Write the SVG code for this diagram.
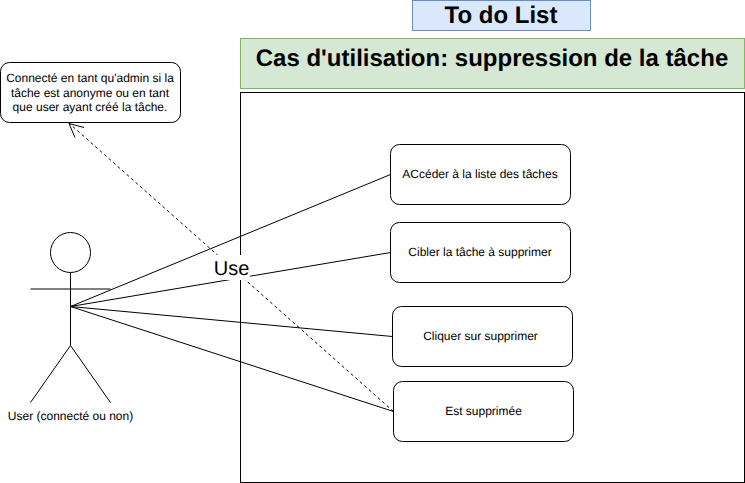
<svg xmlns="http://www.w3.org/2000/svg" width="745" height="483" viewBox="0 0 745 483">
<style>
text{font-family:"Liberation Sans",Arial,sans-serif;fill:#000;text-anchor:middle;text-rendering:geometricPrecision}
.b{fill:#fff;stroke:#000;stroke-width:1}
.s{font-size:12px}
.l{fill:none;stroke:#000;stroke-width:1}
.h{font-weight:bold}
</style>
<rect width="745" height="483" fill="#fff"/>
<g id="title"><rect x="412.500" y="0.500" width="178" height="30" fill="#dae8fc" stroke="#6c8ebf"/><text class="h" x="501" y="23" font-size="24">To do List</text></g>
<g id="usecase-title"><rect x="240.500" y="38.500" width="504" height="50" fill="#d5e8d4" stroke="#82b366"/><text class="h" x="492" y="66" font-size="24">Cas d'utilisation: suppression de la tâche</text></g>
<g id="boundary"><rect x="240.500" y="92.500" width="504" height="390" fill="#fff" stroke="#000"/></g>
<g id="note"><rect class="b" x="0.500" y="62.500" width="180" height="60" rx="9" ry="9"/>
<text class="s" x="90" y="82">Connecté en tant qu'admin si la</text><text class="s" x="90" y="96.500">tâche est anonyme ou en tant</text><text class="s" x="90" y="111">que user ayant créé la tâche.</text></g>
<g id="connectors">
<path class="l" d="M70.500 306.500L390.500 174.500M70.500 306.500L390.500 252.500M70.500 306.500L392.500 336.500M70.500 306.500L393.500 411.500"/>
<path class="l" stroke-dasharray="3 3" d="M393.500 411.500L70 124"/>
<path class="l" d="M84 127.500L69 123.500L75 137.500"/>
<rect x="212" y="255" width="38" height="25" fill="#fff"/>
<text x="231.500" y="275" font-size="20">Use</text>
</g>
<g id="actor"><circle class="b" cx="70.500" cy="252.500" r="20"/><path class="l" d="M70.500 272.500V345.500M30.500 289H110.500M30.500 402.500L70.500 345.500L110.500 402.500"/>
<text class="s" x="70.500" y="420">User (connecté ou non)</text></g>
<g id="uc1"><rect class="b" x="390.500" y="144.500" width="180" height="60" rx="9" ry="9"/><text class="s" x="480" y="178">ACcéder à la liste des tâches</text></g>
<g id="uc2"><rect class="b" x="390.500" y="222.500" width="180" height="60" rx="9" ry="9"/><text class="s" x="480" y="256">Cibler la tâche à supprimer</text></g>
<g id="uc3"><rect class="b" x="392.500" y="306.500" width="180" height="60" rx="9" ry="9"/><text class="s" x="480.500" y="340">Cliquer sur supprimer</text></g>
<g id="uc4"><rect class="b" x="393.500" y="381.500" width="180" height="60" rx="9" ry="9"/><text class="s" x="483.500" y="415">Est supprimée</text></g>
</svg>
